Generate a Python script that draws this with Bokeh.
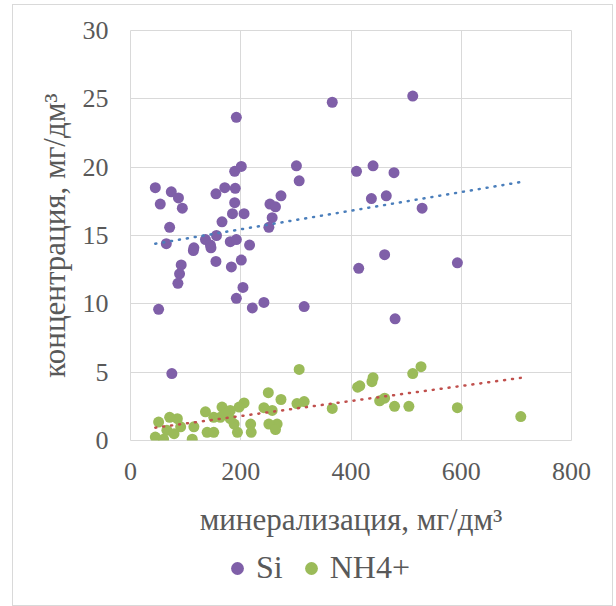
import numpy as np
from bokeh.plotting import figure
from bokeh.layouts import column
from bokeh.models import Legend, LegendItem, FixedTicker, Range1d
from bokeh.embed import file_html
from bokeh.resources import INLINE

# Si data
si_x = [192, 366, 512, 189, 201, 301, 306, 45, 74, 87, 94, 54, 171, 190, 155, 189, 185, 206,
        273, 253, 263, 257, 251, 166, 71, 65, 115, 114, 136, 145, 146, 156, 181, 192, 216,
        155, 183, 201, 92, 89, 86, 204, 192, 221, 242, 315, 51, 75,
        410, 440, 478, 437, 464, 529, 461, 414, 593, 480]
si_y = [23.65, 24.75, 25.2, 19.7, 20.05, 20.1, 19.0, 18.5, 18.2, 17.75, 17.0, 17.3, 18.5, 18.45, 18.05, 17.4, 16.6, 16.6,
        17.9, 17.3, 17.1, 16.3, 15.6, 16.0, 15.6, 14.4, 14.1, 13.9, 14.7, 14.3, 14.1, 15.0, 14.55, 14.7, 14.3,
        13.1, 12.7, 13.2, 12.85, 12.2, 11.5, 11.2, 10.4, 9.7, 10.1, 9.8, 9.6, 4.9,
        19.7, 20.1, 19.6, 17.7, 17.9, 17.0, 13.6, 12.6, 13.0, 8.9]

# NH4+ data
nh_x = [306, 250, 273, 302, 315, 366, 206, 197, 166, 181, 136, 151, 242, 257, 266, 251, 263, 218, 219, 194,
        188, 139, 151, 115, 112, 85, 71, 51, 91, 66, 45, 60, 79, 163, 172, 181,
        527, 512, 412, 416, 438, 440, 452, 461, 479, 505, 593, 708]
nh_y = [5.2, 3.5, 3.0, 2.7, 2.85, 2.35, 2.75, 2.45, 2.45, 2.2, 2.1, 1.7, 2.4, 2.2, 1.2, 1.2, 0.8, 1.2, 0.6, 0.6,
        1.2, 0.6, 0.6, 1.0, 0.1, 1.6, 1.7, 1.35, 1.0, 0.75, 0.25, 0.1, 0.5, 1.7, 1.95, 1.6,
        5.4, 4.9, 3.9, 4.0, 4.3, 4.6, 2.9, 3.1, 2.5, 2.5, 2.4, 1.75]

series_names = ["Si", "NH4+"]
x_ticks = [0, 200, 400, 600, 800]
y_ticks = [0, 5, 10, 15, 20, 25, 30]

FONT = "Liberation Serif"
TXT = "#595959"
GRID = "#d9d9d9"
C_SI = "#7f5fa8"
C_NH = "#9bbb59"

p = figure(width=599, height=535, output_backend="svg", toolbar_location=None,
           x_range=Range1d(0, 800), y_range=Range1d(0, 30),
           frame_width=441, frame_height=410,
           min_border_left=117, min_border_top=25, min_border_right=41, min_border_bottom=100)

p.outline_line_color = GRID
p.xgrid.grid_line_color = GRID
p.ygrid.grid_line_color = GRID
p.xaxis.ticker = FixedTicker(ticks=x_ticks)
p.yaxis.ticker = FixedTicker(ticks=y_ticks)
for ax in (p.xaxis[0], p.yaxis[0]):
    ax.axis_line_color = None
    ax.major_tick_line_color = None
    ax.minor_tick_line_color = None
    ax.major_label_text_font = FONT
    ax.major_label_text_font_size = "26px"
    ax.major_label_text_color = TXT
    ax.axis_label_text_font = FONT
    ax.axis_label_text_font_size = "31px"
    ax.axis_label_text_color = TXT
    ax.axis_label_text_font_style = "normal"
p.xaxis.axis_label = "минерализация, мг/дм³"
p.yaxis.axis_label = "концентрация, мг/дм³"
p.yaxis.major_label_standoff = 16
p.yaxis.axis_label_standoff = 8
p.xaxis.major_label_standoff = 16
p.xaxis.axis_label_standoff = 19

p.scatter(si_x, si_y, size=11, fill_color=C_SI, line_color=None)
p.scatter(nh_x, nh_y, size=11, fill_color=C_NH, line_color=None)

# linear trend lines (least squares)
all_x = np.array(si_x + nh_x, dtype=float)
xr = np.array([all_x.min(), all_x.max()])
k1, b1 = np.polyfit(si_x, si_y, 1)
k2, b2 = np.polyfit(nh_x, nh_y, 1)
p.line(xr, k1 * xr + b1, line_color="#4a7ebb", line_width=2.5, line_dash="1 7", line_cap="round")
p.line(xr, k2 * xr + b2, line_color="#c0504d", line_width=2.5, line_dash="1 7", line_cap="round")

# legend strip below the chart (its glyph renderers hold data outside its range, so only the legend shows)
q = figure(width=599, height=65, output_backend="svg", toolbar_location=None,
           x_range=Range1d(0, 1), y_range=Range1d(0, 1),
           min_border=0, outline_line_color=None)
q.axis.visible = False
q.grid.visible = False
l_si = q.scatter(si_x[:1], si_y[:1], size=11, fill_color=C_SI, line_color=None)
l_nh = q.scatter(nh_x[:1], nh_y[:1], size=11, fill_color=C_NH, line_color=None)
legend = Legend(items=[LegendItem(label=series_names[0], renderers=[l_si]),
                       LegendItem(label=series_names[1], renderers=[l_nh])],
                orientation="horizontal", location=(91, 19),
                label_text_font=FONT, label_text_font_size="32px", label_text_color=TXT,
                border_line_color=None, background_fill_alpha=0,
                glyph_width=32, glyph_height=32, spacing=12, margin=0, padding=0,
                label_standoff=3)
q.add_layout(legend)

layout = column(p, q, spacing=0,
                styles={"border": "1px solid #d9d9d9", "margin-left": "12px", "margin-top": "4px"})

open("out.html", "w").write(file_html(layout, INLINE))
